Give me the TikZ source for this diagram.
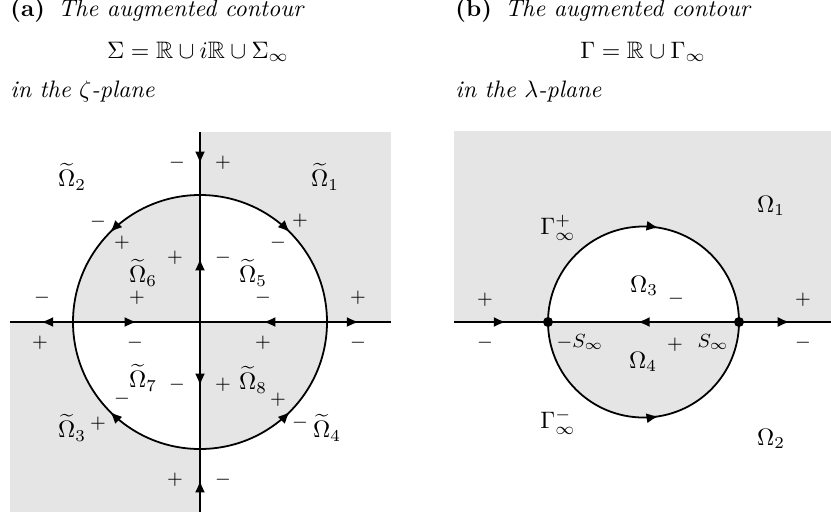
\documentclass[tikz,border=0pt]{standalone}
\usepackage{amsmath,amssymb}
\usetikzlibrary{arrows.meta,decorations.markings}
\tikzset{
  contour/.style={line width=0.75pt},
  midarrow/.style={postaction={decorate},decoration={markings,mark=at position #1 with {\arrow{Latex[length=5pt,width=4.2pt]}}}},
  midarrow/.default=0.5,
  sgn/.style={font=\footnotesize, inner sep=0pt},
  reg/.style={inner sep=0pt},
  shadefill/.style={fill=gray!20},
  dotnode/.style={circle,fill=black,inner sep=0pt,minimum size=4.2pt},
  capt/.style={inner sep=0pt}
}
\begin{document}
\begin{tikzpicture}[x=0.42pt,y=0.42pt]
\useasboundingbox (0,0) rectangle (831,517);

% ---------- titles ----------
\node[capt,anchor=base west] (capa) at (10,500) {\textbf{(a)}\hspace{5.5pt}\textit{The augmented contour}};
\node[capt,anchor=base] (eqa) at (198,459) {$\Sigma=\mathbb{R}\cup i\mathbb{R}\cup\Sigma_\infty$};
\node[capt,anchor=base west] (pla) at (10,420) {\textit{in the $\zeta$-plane}};
\node[capt,anchor=base west] (capb) at (455,500) {\textbf{(b)}\hspace{5.5pt}\textit{The augmented contour}};
\node[capt,anchor=base] (eqb) at (643,459) {$\Gamma=\mathbb{R}\cup\Gamma_\infty$};
\node[capt,anchor=base west] (plb) at (455,420) {\textit{in the $\lambda$-plane}};

% ---------- left panel ----------
\coordinate (O) at (200,195);
\coordinate (T) at (200,385);
\coordinate (B) at (200,5);
\coordinate (L) at (9.5,195);
\coordinate (R) at (390.5,195);
\coordinate (Ct) at (200,322);
\coordinate (Cb) at (200,68);
\coordinate (Cl) at (73,195);
\coordinate (Cr) at (327,195);

\fill[shadefill] (O) rectangle (390.5,385);
\fill[shadefill] (O) rectangle (9.5,5);
\fill[white] (O) -- (Cr) arc (0:90:127) -- cycle;
\fill[white] (O) -- (Cl) arc (180:270:127) -- cycle;
\fill[shadefill] (O) -- (Ct) arc (90:180:127) -- cycle;
\fill[shadefill] (O) -- (Cb) arc (270:360:127) -- cycle;

\draw[contour,midarrow] (T) -- (Ct);
\draw[contour,midarrow] (O) -- (Ct);
\draw[contour,midarrow] (O) -- (Cb);
\draw[contour,midarrow] (B) -- (Cb);
\draw[contour,midarrow] (Cl) -- (L);
\draw[contour,midarrow] (Cl) -- (O);
\draw[contour,midarrow] (Cr) -- (O);
\draw[contour,midarrow] (Cr) -- (R);
\draw[contour,midarrow] (Ct) arc (90:180:127);
\draw[contour,midarrow] (Ct) arc (90:0:127);
\draw[contour,midarrow] (Cb) arc (270:180:127);
\draw[contour,midarrow] (Cb) arc (270:360:127);

% region labels
\node[reg] (w1) at (325,340) {$\widetilde{\Omega}_1$};
\node[reg] (w2) at (72,340) {$\widetilde{\Omega}_2$};
\node[reg] (w3) at (72,89) {$\widetilde{\Omega}_3$};
\node[reg] (w4) at (327,89) {$\widetilde{\Omega}_4$};
\node[reg] (w5) at (253,244) {$\widetilde{\Omega}_5$};
\node[reg] (w6) at (143,244) {$\widetilde{\Omega}_6$};
\node[reg] (w7) at (143,139) {$\widetilde{\Omega}_7$};
\node[reg] (w8) at (253,137) {$\widetilde{\Omega}_8$};

% signs
\node[sgn] (s1) at (177,354) {$-$};
\node[sgn] (s2) at (223,354) {$+$};
\node[sgn] (s3) at (98,295) {$-$};
\node[sgn] (s4) at (122,274) {$+$};
\node[sgn] (s5) at (300,296) {$+$};
\node[sgn] (s6) at (278,274) {$-$};
\node[sgn] (s7) at (175,259) {$+$};
\node[sgn] (s8) at (223,259) {$-$};
\node[sgn] (s9) at (42,219) {$-$};
\node[sgn] (s10) at (137,219) {$+$};
\node[sgn] (s11) at (263,219) {$-$};
\node[sgn] (s12) at (358,219) {$+$};
\node[sgn] (s13) at (40,174) {$+$};
\node[sgn] (s14) at (135,174) {$-$};
\node[sgn] (s15) at (263,174) {$+$};
\node[sgn] (s16) at (358,174) {$-$};
\node[sgn] (s17) at (177,132) {$-$};
\node[sgn] (s18) at (223,132) {$+$};
\node[sgn] (s19) at (122,118) {$-$};
\node[sgn] (s20) at (98,93) {$+$};
\node[sgn] (s21) at (278,117) {$+$};
\node[sgn] (s22) at (300,94) {$-$};
\node[sgn] (s23) at (175,37) {$+$};
\node[sgn] (s24) at (223,37) {$-$};

% ---------- right panel ----------
\coordinate (O2) at (643.5,195);
\coordinate (L2) at (454,195);
\coordinate (R2) at (831,195);
\coordinate (P) at (548,195);
\coordinate (Q) at (739,195);

\fill[shadefill] (L2) rectangle (831,386);
\fill[white] (P) arc (180:0:95.5) -- cycle;
\fill[shadefill] (P) arc (180:360:95.5) -- cycle;

\draw[contour,midarrow=0.55] (L2) -- (P);
\draw[contour,midarrow=0.53] (Q) -- (P);
\draw[contour,midarrow=0.55] (Q) -- (R2);
\draw[contour,midarrow=0.55] (P) arc (180:0:95.5);
\draw[contour,midarrow=0.55] (P) arc (180:360:95.5);

\node[dotnode] (dP) at (P) {};
\node[dotnode] (dQ) at (Q) {};

\node[reg] (G1) at (558,289) {$\Gamma_\infty^+$};
\node[reg] (G2) at (558,95) {$\Gamma_\infty^-$};
\node[reg] (W1) at (771,311) {$\Omega_1$};
\node[reg] (W2) at (771,78) {$\Omega_2$};
\node[reg] (W3) at (644,231) {$\Omega_3$};
\node[reg] (W4) at (643,155) {$\Omega_4$};

\node[sgn] (t1) at (485,217) {$+$};
\node[sgn] (t2) at (803,217) {$+$};
\node[sgn] (t3) at (676,218) {$-$};
\node[sgn] (t4) at (485,174) {$-$};
\node[sgn] (t5) at (803,174) {$-$};
\node[sgn] (t6) at (675,172) {$+$};
\node[sgn] (Sm) at (580,175) {$-S_\infty$};
\node[sgn] (Sp) at (713,175) {$S_\infty$};

\end{tikzpicture}
\end{document}
